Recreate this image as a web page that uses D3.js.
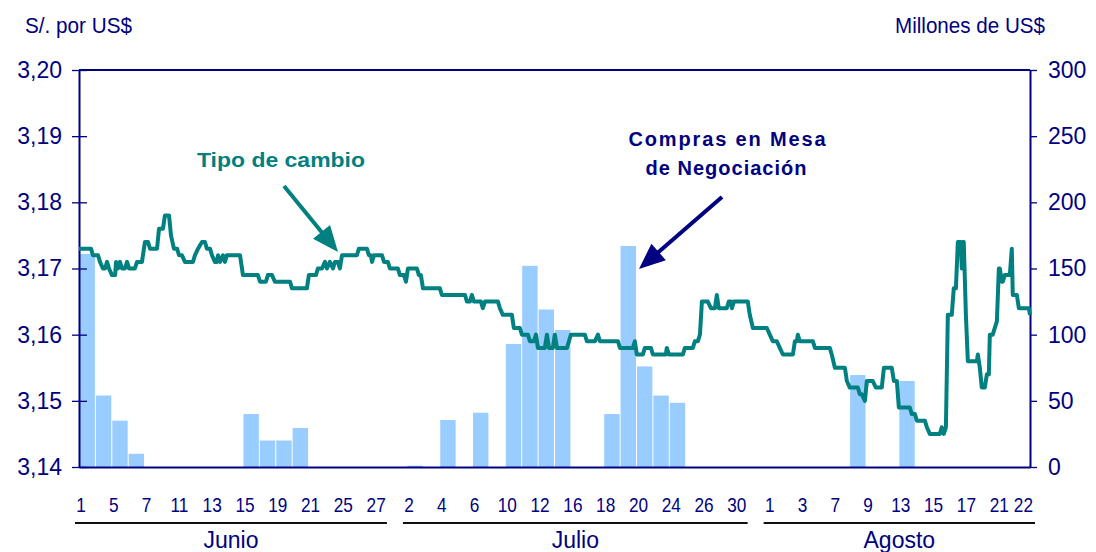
<!DOCTYPE html>
<html>
<head>
<meta charset="utf-8">
<script src="https://cdn.jsdelivr.net/npm/d3@7/dist/d3.min.js"></script>
<style>
    body { margin: 0; background: #fff; }
    text { font-family: "Liberation Sans", Arial, sans-serif; }
</style>
</head>
<body>
<svg id="chart" width="1096" height="552"></svg>
<script>
// trading days (29 jun holiday)
var juneDays = [1, 4, 5, 6, 7, 8, 11, 12, 13, 14, 15, 18, 19, 20, 21, 22, 25, 26, 27, 28];
var julyDays = [2, 3, 4, 5, 6, 9, 10, 11, 12, 13, 16, 17, 18, 19, 20, 23, 24, 25, 26, 27, 30, 31];
var augDays = [1, 2, 3, 6, 7, 8, 9, 10, 13, 14, 15, 16, 17, 20, 21, 22];
var monthNames = ["Junio", "Julio", "Agosto"];

// Compras en Mesa de Negociacion, millones de US$
var juneBuys = [161, 54, 35, 10, 0, 0, 0, 0, 0, 0, 40, 20, 20, 29.5, 0, 0, 0, 0, 0, 0];
var julyBuys = [1, 0, 35.5, 0, 41, 0, 93, 152, 119, 103.5, 0, 0, 40, 167, 76, 54, 48.5, 0, 0, 0, 0, 0];
var augBuys = [0, 0, 0, 0, 0, 69.5, 0, 0, 65, 0, 0, 0, 0, 0, 0, 0];

// Tipo de cambio (intradia), posicion en dias habiles
var rateX = [0, 0.73, 0.85, 1.16, 1.28, 1.46, 1.59, 1.71, 1.83, 2.01, 2.2, 2.26, 2.38, 2.5, 2.62, 2.8, 2.93, 3.05, 3.23, 3.41, 3.54, 3.84,
    4.02, 4.21, 4.33, 4.76, 4.88, 5.12, 5.24, 5.49, 5.61, 5.79, 5.98, 6.1, 6.28, 6.46, 6.95, 7.07, 7.26, 7.5, 7.68, 7.8, 7.99,
    8.11, 8.29, 8.41, 8.48, 8.6, 8.78, 8.9, 9.02, 9.82, 10, 10.91, 11.04, 11.4, 11.52, 11.77, 11.95, 12.87, 12.99, 13.9,
    14.02, 14.45, 14.57, 14.82, 15, 15.12, 15.3, 15.49, 15.61, 15.79, 15.91, 16.04, 16.95, 17.07, 17.56, 17.68, 17.8, 17.87,
    17.99, 18.48, 18.6, 18.84, 18.96, 19.45, 19.57, 19.82, 19.94, 20.06, 20.61, 20.73, 20.85, 20.98, 22.01, 22.13, 23.54,
    23.66, 23.84, 23.96, 24.09, 24.51, 24.63, 24.76, 25.55, 25.67, 25.85, 26.4, 26.52, 26.89, 27.01, 27.38, 27.5, 27.74,
    27.87, 27.99, 28.41, 28.54, 28.66, 28.9, 29.02, 29.15, 29.76, 29.88, 30, 30.85, 30.98, 31.46, 31.65, 31.77, 32.87,
    32.99, 33.78, 33.9, 34.02, 34.39, 34.51, 34.88, 35, 35.79, 35.85, 35.98, 36.83, 36.95, 37.44, 37.56, 37.74, 37.87,
    37.99, 38.35, 38.54, 38.78, 38.9, 39.02, 39.51, 39.63, 39.76, 39.82, 39.94, 40.79, 40.91, 41.1, 41.95, 42.13, 42.32,
    42.56, 42.74, 42.93, 43.54, 43.66, 43.78, 43.84, 43.96, 44.76, 44.88, 45.79, 45.91, 46.1, 46.71, 46.83, 47.01, 47.5,
    47.62, 47.74, 47.93, 48.05, 48.41, 48.6, 48.96, 49.09, 49.57, 49.7, 49.88, 50, 50.67, 50.79, 50.98, 51.1, 51.59,
    51.71, 51.89, 52.5, 52.62, 52.74, 52.87, 52.99, 53.23, 53.35, 53.48, 53.6, 53.78, 53.84, 53.9, 53.96, 54.09, 54.21,
    54.76, 54.82, 54.94, 55.06, 55.24, 55.37, 55.49, 55.55, 55.73, 55.85, 55.98, 56.1, 56.16, 56.28, 56.34, 56.46, 56.65,
    56.77, 56.89, 56.95, 57.2, 57.32, 57.93, 58];
var rateY = [3.173, 3.173, 3.172, 3.172, 3.171, 3.170, 3.170, 3.171, 3.170, 3.169, 3.169, 3.171, 3.170, 3.171, 3.170, 3.170, 3.171, 3.170, 3.170, 3.170, 3.171, 3.171,
    3.174, 3.174, 3.173, 3.173, 3.176, 3.176, 3.178, 3.178, 3.175, 3.173, 3.173, 3.172, 3.172, 3.171, 3.171, 3.172, 3.173, 3.174, 3.174, 3.173, 3.173,
    3.172, 3.171, 3.171, 3.172, 3.171, 3.172, 3.171, 3.172, 3.172, 3.169, 3.169, 3.168, 3.168, 3.169, 3.169, 3.168, 3.168, 3.167, 3.167,
    3.169, 3.169, 3.170, 3.170, 3.171, 3.170, 3.171, 3.170, 3.171, 3.171, 3.170, 3.172, 3.172, 3.173, 3.173, 3.172, 3.172, 3.171,
    3.172, 3.172, 3.171, 3.171, 3.170, 3.170, 3.169, 3.169, 3.168, 3.170, 3.170, 3.169, 3.169, 3.167, 3.167, 3.166, 3.166,
    3.165, 3.165, 3.166, 3.165, 3.165, 3.164, 3.165, 3.165, 3.164, 3.163, 3.163, 3.161, 3.161, 3.160, 3.160, 3.159, 3.159,
    3.160, 3.158, 3.158, 3.160, 3.158, 3.158, 3.160, 3.158, 3.158, 3.159, 3.160, 3.160, 3.159, 3.159, 3.160, 3.159, 3.159,
    3.158, 3.158, 3.159, 3.157, 3.157, 3.158, 3.158, 3.157, 3.157, 3.158, 3.157, 3.157, 3.158, 3.158, 3.159, 3.159, 3.160,
    3.165, 3.165, 3.164, 3.164, 3.166, 3.164, 3.164, 3.165, 3.165, 3.164, 3.165, 3.165, 3.163, 3.161, 3.161, 3.160, 3.159,
    3.159, 3.158, 3.157, 3.157, 3.159, 3.159, 3.160, 3.159, 3.159, 3.158, 3.158, 3.157, 3.155, 3.155, 3.153, 3.152, 3.152,
    3.151, 3.151, 3.150, 3.153, 3.153, 3.152, 3.152, 3.155, 3.155, 3.153, 3.153, 3.149, 3.149, 3.148, 3.148, 3.147, 3.147,
    3.146, 3.145, 3.145, 3.146, 3.145, 3.146, 3.163, 3.163, 3.167, 3.167, 3.174, 3.174, 3.170, 3.174, 3.174, 3.163, 3.156,
    3.156, 3.157, 3.155, 3.152, 3.152, 3.154, 3.154, 3.160, 3.160, 3.161, 3.162, 3.170, 3.170, 3.168, 3.168, 3.169, 3.169,
    3.169, 3.173, 3.166, 3.166, 3.164, 3.164, 3.163];

var leftTicks = [3.14, 3.15, 3.16, 3.17, 3.18, 3.19, 3.20];
var rightTicks = [0, 50, 100, 150, 200, 250, 300];

(function () {
    var navy = "#000080", teal = "#008080", barColor = "#99CCFF";
    var plotLeft = 79, plotRight = 1030, plotTop = 70, plotBottom = 467;

    var months = [juneDays, julyDays, augDays];
    var buys = juneBuys.concat(julyBuys, augBuys);
    var nDays = buys.length;

    var svg = d3.select("#chart");

    var x = d3.scaleLinear().domain([0, nDays]).range([plotLeft, plotRight]);
    var yRate = d3.scaleLinear().domain([3.14, 3.20]).range([plotBottom, plotTop]);
    var yBuy = d3.scaleLinear().domain([0, 300]).range([plotBottom, plotTop]);

    // bars
    svg.append("g").selectAll("rect")
        .data(buys.map(function (v, i) { return {i: i, v: v}; }).filter(function (d) { return d.v > 0; }))
        .enter().append("rect")
        .attr("x", function (d) { return x(d.i) + 0.5; })
        .attr("width", function (d) { return x(d.i + 1) - x(d.i) - 1; })
        .attr("y", function (d) { return yBuy(d.v); })
        .attr("height", function (d) { return yBuy(0) - yBuy(d.v); })
        .attr("fill", barColor);

    // frame top
    svg.append("line").attr("x1", plotLeft).attr("x2", plotRight).attr("y1", plotTop).attr("y2", plotTop)
        .attr("stroke", navy).attr("stroke-width", 2);

    var axL = svg.append("g").attr("transform", "translate(" + plotLeft + ",0)")
        .call(d3.axisLeft(yRate).tickValues(leftTicks).tickSize(7).tickPadding(10).tickSizeOuter(0)
            .tickFormat(function (d) { return d3.format(".2f")(d).replace(".", ","); }));
    axL.selectAll(".tick line").clone().attr("x2", 8);

    var axR = svg.append("g").attr("transform", "translate(" + plotRight + ",0)")
        .call(d3.axisRight(yBuy).tickValues(rightTicks).tickSize(7).tickPadding(11).tickSizeOuter(0));

    var axB = svg.append("g").attr("transform", "translate(0," + plotBottom + ")")
        .call(d3.axisBottom(x).tickValues([]).tickSizeOuter(0));

    [axL, axR, axB].forEach(function (ax) {
        ax.select(".domain").attr("stroke", navy).attr("stroke-width", 2);
        ax.selectAll(".tick line").attr("stroke", navy).attr("stroke-width", 1.3);
        ax.selectAll(".tick text").attr("fill", navy).attr("font-size", 23)
            .attr("font-family", "'Liberation Sans', Arial, sans-serif");
    });
    axL.selectAll(".tick text").attr("x", -17);

    // exchange rate line
    var rate = rateX.map(function (t, i) { return [t, rateY[i]]; });
    svg.append("path")
        .datum(rate)
        .attr("fill", "none")
        .attr("stroke", teal)
        .attr("stroke-width", 4)
        .attr("stroke-linejoin", "round")
        .attr("d", d3.line().x(function (d) { return x(d[0]); }).y(function (d) { return yRate(d[1]); }));

    // day labels + month groups
    var idx = 0;
    months.forEach(function (days, m) {
        var first = idx;
        days.forEach(function (day, k) {
            var i = idx + k;
            var last = i === nDays - 1;
            if (k % 2 === 0 || last) {
                var lx = last ? x(nDays) + 3 : x(i) + 2;
                svg.append("text")
                    .attr("transform", "translate(" + lx + ",512) scale(0.82,1)")
                    .attr("text-anchor", last ? "end" : "middle")
                    .attr("font-size", 21)
                    .attr("fill", navy)
                    .text(day);
            }
        });
        idx += days.length;
        var x1 = x(first) - 4;
        var x2 = m === months.length - 1 ? x(nDays) + 5 : x(idx) - 20;
        svg.append("line").attr("x1", x1).attr("x2", x2).attr("y1", 523).attr("y2", 523)
            .attr("stroke", "#111").attr("stroke-width", 2);
        svg.append("text")
            .attr("x", (x1 + x2) / 2).attr("y", 548)
            .attr("text-anchor", "middle")
            .attr("font-size", 23)
            .attr("fill", navy)
            .text(monthNames[m]);
    });

    // axis titles
    svg.append("text").attr("x", 25).attr("y", 33)
        .attr("font-size", 22).attr("fill", navy)
        .attr("textLength", 107).attr("lengthAdjust", "spacingAndGlyphs")
        .text("S/. por US$");
    svg.append("text").attr("x", 895).attr("y", 33)
        .attr("font-size", 22).attr("fill", navy)
        .attr("textLength", 150).attr("lengthAdjust", "spacingAndGlyphs")
        .text("Millones de US$");

    // annotations
    function arrow(x1, y1, x2, y2, color) {
        var dx = x2 - x1, dy = y2 - y1, len = Math.sqrt(dx * dx + dy * dy);
        var ux = dx / len, uy = dy / len, hl = 26, hw = 11;
        var bx = x2 - ux * hl, by = y2 - uy * hl;
        svg.append("line").attr("x1", x1).attr("y1", y1).attr("x2", bx + ux * 2).attr("y2", by + uy * 2)
            .attr("stroke", color).attr("stroke-width", 4);
        svg.append("polygon")
            .attr("points", [[x2, y2], [bx - uy * hw, by + ux * hw], [bx + uy * hw, by - ux * hw]].join(" "))
            .attr("fill", color);
    }

    svg.append("text").attr("x", 281).attr("y", 167).attr("text-anchor", "middle")
        .attr("font-size", 21).attr("font-weight", "bold").attr("fill", teal)
        .attr("textLength", 168).attr("lengthAdjust", "spacingAndGlyphs")
        .text("Tipo de cambio");
    arrow(284, 186, 338, 252, teal);

    svg.append("text").attr("x", 727).attr("y", 146).attr("text-anchor", "middle")
        .attr("font-size", 20).attr("font-weight", "bold").attr("fill", navy)
        .attr("textLength", 197).attr("lengthAdjust", "spacing")
        .text("Compras en Mesa");
    svg.append("text").attr("x", 726).attr("y", 175).attr("text-anchor", "middle")
        .attr("font-size", 20).attr("font-weight", "bold").attr("fill", navy)
        .attr("textLength", 161).attr("lengthAdjust", "spacing")
        .text("de Negociación");
    arrow(722, 197, 639, 269, navy);
})();
</script>
</body>
</html>
